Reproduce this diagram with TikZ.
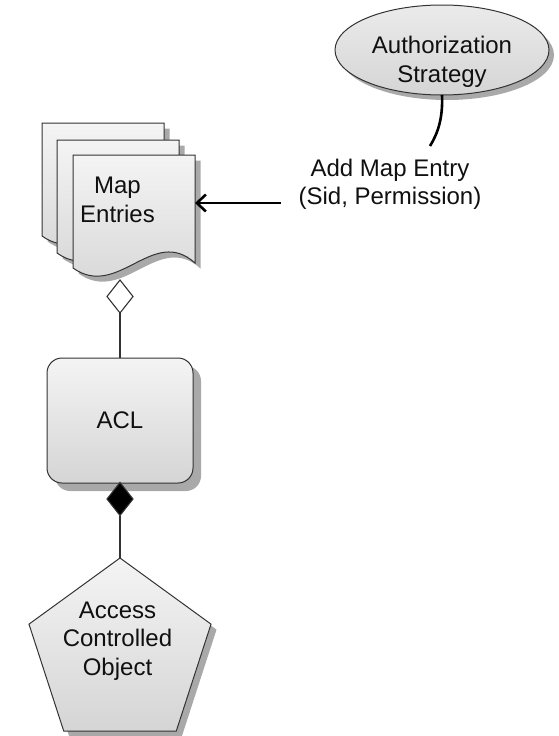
\documentclass[tikz,border=0pt]{standalone}
\usepackage{fontspec}
\setmainfont{Liberation Sans}
\usetikzlibrary{shapes.geometric,shadows,arrows.meta}
\definecolor{shade}{HTML}{A9A9A9}
\definecolor{filltop}{HTML}{F4F4F4}
\definecolor{fillbot}{HTML}{D5D5D5}
\definecolor{edge}{HTML}{333333}
\definecolor{ink}{HTML}{101010}
\begin{document}
\begin{tikzpicture}[x=1pt,y=-1pt,
  every node/.style={inner sep=0pt, outer sep=0pt},
  txt/.style={font=\fontsize{24}{28.5}\selectfont, align=center, text=ink},
  shadowed/.style={drop shadow={shadow xshift=#1, shadow yshift=-#1, fill=shade, opacity=1}},
  shadowed/.default=6pt,
  body/.style={draw=edge, line width=1pt, top color=filltop, bottom color=fillbot},
  link/.style={draw=edge, line width=1.1pt},
  call/.style={draw=black, line width=2.6pt},
  pointer/.style={draw=black, line width=2.6pt, -{Straight Barb[length=9pt,width=17pt,line width=2.6pt]}},
  aggr/.style={diamond, draw=edge, line width=1.1pt, minimum width=26pt, minimum height=33pt},
  sheet/.pic={
    \path[body, shadowed=5.5pt]
      (0,0) -- (122,0) -- (122,108)
      .. controls (80,70) and (45,145) .. (0,113) -- cycle;
  }
]
\useasboundingbox (0,0) rectangle (558,736);

% Authorization strategy
\node[ellipse, body, shadowed=5pt, minimum width=214pt, minimum height=90pt,
      top color=filltop!70!fillbot] (auth) at (442,50) {};
\node[txt] (authtext) at (442,62) {Authorization\\Strategy};

% stack of map entry sheets, back to front
\pic at (42,123) {sheet};
\pic at (57,140) {sheet};
\pic at (73,155) {sheet};
\node[minimum width=122pt, minimum height=96pt] (docs) at (134,203) {};
\node[txt] (doctext) at (117.5,200) {Map\\Entries};

% call label and arrow into the map entries
\node[txt] (lbl) at (390,184.5) {Add Map Entry\\(Sid, Permission)};
\coordinate (callend) at (430,146);
\coordinate (tail) at (281,203);
\draw[call] (auth.south) .. controls (443,118) and (438,133) .. (callend);
\draw[pointer] (tail) -- (docs.east);

% ACL
\node[rectangle, rounded corners=15pt, body, shadowed=8pt,
      minimum width=146pt, minimum height=125pt] (acl) at (120,420.5) {};
\node[txt] (acltext) at (120,420) {ACL};

% access controlled object
\node[regular polygon, regular polygon sides=5, body, shadowed=5.5pt,
      minimum size=191.4pt] (aco) at (120,653.7) {};
\node[txt] (acotext) at (117.5,641) {Access\\Controlled\\Object};

% associations
\node[aggr, fill=white] (hd) at (120,296.5) {};
\node[aggr, fill=black] (fd) at (120,499) {};
\draw[link] (hd.south) -- (acl.north);
\draw[link] (fd.south) -- (aco.north);
\end{tikzpicture}
\end{document}
